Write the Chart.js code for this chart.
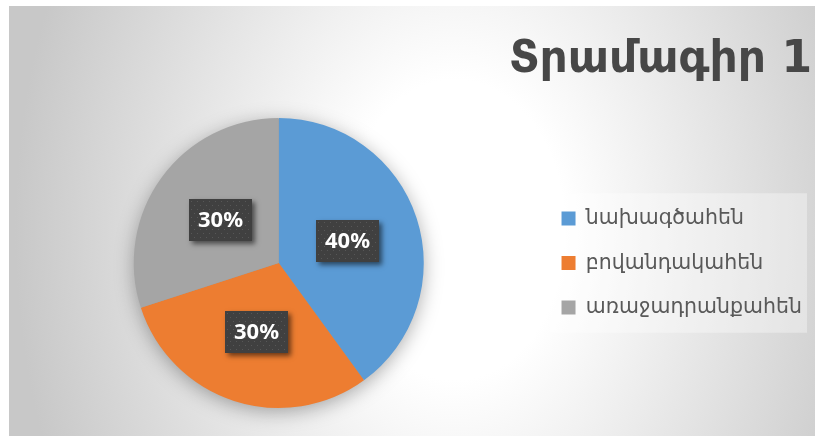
<!DOCTYPE html>
<html><head><meta charset="utf-8">
<script src="https://cdn.jsdelivr.net/npm/chart.js@4"></script>
<style>html,body{margin:0;padding:0;background:#fff}#wrap{position:relative;width:815px;height:436px}</style>
</head><body><div id="wrap"><canvas id="c"></canvas></div>
<script>
const titleText = 'Տրամագիր 1';
const categories = ['նախագծահեն', 'բովանդակահեն', 'առաջադրանքահեն'];
const values = [40, 30, 30];
const colors = ['#5B9BD5', '#ED7D31', '#A5A5A5'];

const bgPlugin = {
  id: 'bg',
  beforeDraw(chart) {
    const ctx = chart.ctx, W = chart.width, H = chart.height;
    ctx.save();
    ctx.fillStyle = '#ffffff';
    ctx.fillRect(0, 0, W, H);
    ctx.beginPath(); ctx.rect(9, 6, W - 9, H - 6); ctx.clip();
    ctx.translate(455, 230); ctx.scale(1, 600 / 440);
    const g = ctx.createRadialGradient(0, 0, 0, 0, 0, 440);
    g.addColorStop(0, '#ffffff'); g.addColorStop(0.25, '#ffffff'); g.addColorStop(1, '#c8c8c8');
    ctx.fillStyle = g; ctx.fillRect(-2000, -2000, 4000, 4000);
    ctx.restore();
    const lg = chart.legend;
    if (lg && lg.legendHitBoxes && lg.legendHitBoxes.length) {
      const hb = lg.legendHitBoxes;
      const top = hb[0].top - 15, bot = hb[hb.length - 1].top + hb[hb.length - 1].height + 15;
      const left = hb[0].left - 12;
      ctx.save();
      ctx.fillStyle = 'rgba(255,255,255,0.35)';
      ctx.fillRect(left, top, 807 - left, bot - top);
      ctx.restore();
    }
  },
  beforeDatasetsDraw(chart) {
    const meta = chart.getDatasetMeta(0);
    const a = meta.data[0];
    if (!a) return;
    const ctx = chart.ctx;
    ctx.save();
    ctx.shadowColor = 'rgba(0,0,0,0.35)';
    ctx.shadowBlur = 20; ctx.shadowOffsetY = 4;
    ctx.fillStyle = '#999';
    ctx.beginPath(); ctx.arc(a.x, a.y, a.outerRadius - 1, 0, Math.PI * 2); ctx.fill();
    ctx.restore();
  },
  afterDatasetsDraw(chart) {
    const meta = chart.getDatasetMeta(0);
    const ctx = chart.ctx;
    const total = values.reduce((s, v) => s + v, 0);
    meta.data.forEach((arc, i) => {
      const p = arc.tooltipPosition();
      const w = 63, h = 42;
      const x = Math.round(p.x - w / 2), y = Math.round(p.y - h / 2);
      ctx.save();
      ctx.shadowColor = 'rgba(0,0,0,0.55)';
      ctx.shadowBlur = 5; ctx.shadowOffsetX = 3; ctx.shadowOffsetY = 3;
      ctx.fillStyle = '#404040';
      ctx.fillRect(x, y, w, h);
      ctx.restore();
      ctx.save();
      ctx.fillStyle = '#575757';
      for (let yy = y + 2, r = 0; yy < y + h - 1; yy += 4, r++) {
        for (let xx = x + 2 + (r % 2) * 3; xx < x + w - 1; xx += 6) ctx.fillRect(xx, yy, 1, 1);
      }
      ctx.fillStyle = '#ffffff';
      ctx.font = 'bold 22px "Noto Sans", "Open Sans", sans-serif';
      ctx.textAlign = 'center'; ctx.textBaseline = 'middle';
      ctx.fillText(Math.round(values[i] / total * 100) + '%', x + w / 2, y + h / 2 + 1);
      ctx.restore();
    });
  }
};

new Chart(document.getElementById('c'), {
  type: 'pie',
  data: {
    labels: categories,
    datasets: [{ data: values, backgroundColor: colors, borderWidth: 0 }]
  },
  options: {
    responsive: true,
    maintainAspectRatio: false,
    animation: false,
    layout: { padding: { left: 20, right: 3, top: 0, bottom: 28 } },
    plugins: {
      tooltip: { enabled: false },
      title: {
        display: true, text: titleText, align: 'end', color: '#474747',
        font: { family: '"DejaVu Sans", sans-serif', size: 44, weight: 'bold', lineHeight: 1.2 },
        padding: { top: 34.6, bottom: 30.6 }
      },
      legend: {
        display: true, position: 'right', fullSize: false, maxWidth: 276,
        labels: {
          boxWidth: 14, boxHeight: 14, padding: 24, color: '#595959',
          font: { family: '"Noto Sans", "DejaVu Sans", sans-serif', size: 20.5 }
        }
      }
    }
  },
  plugins: [bgPlugin]
});
</script>
</body></html>
